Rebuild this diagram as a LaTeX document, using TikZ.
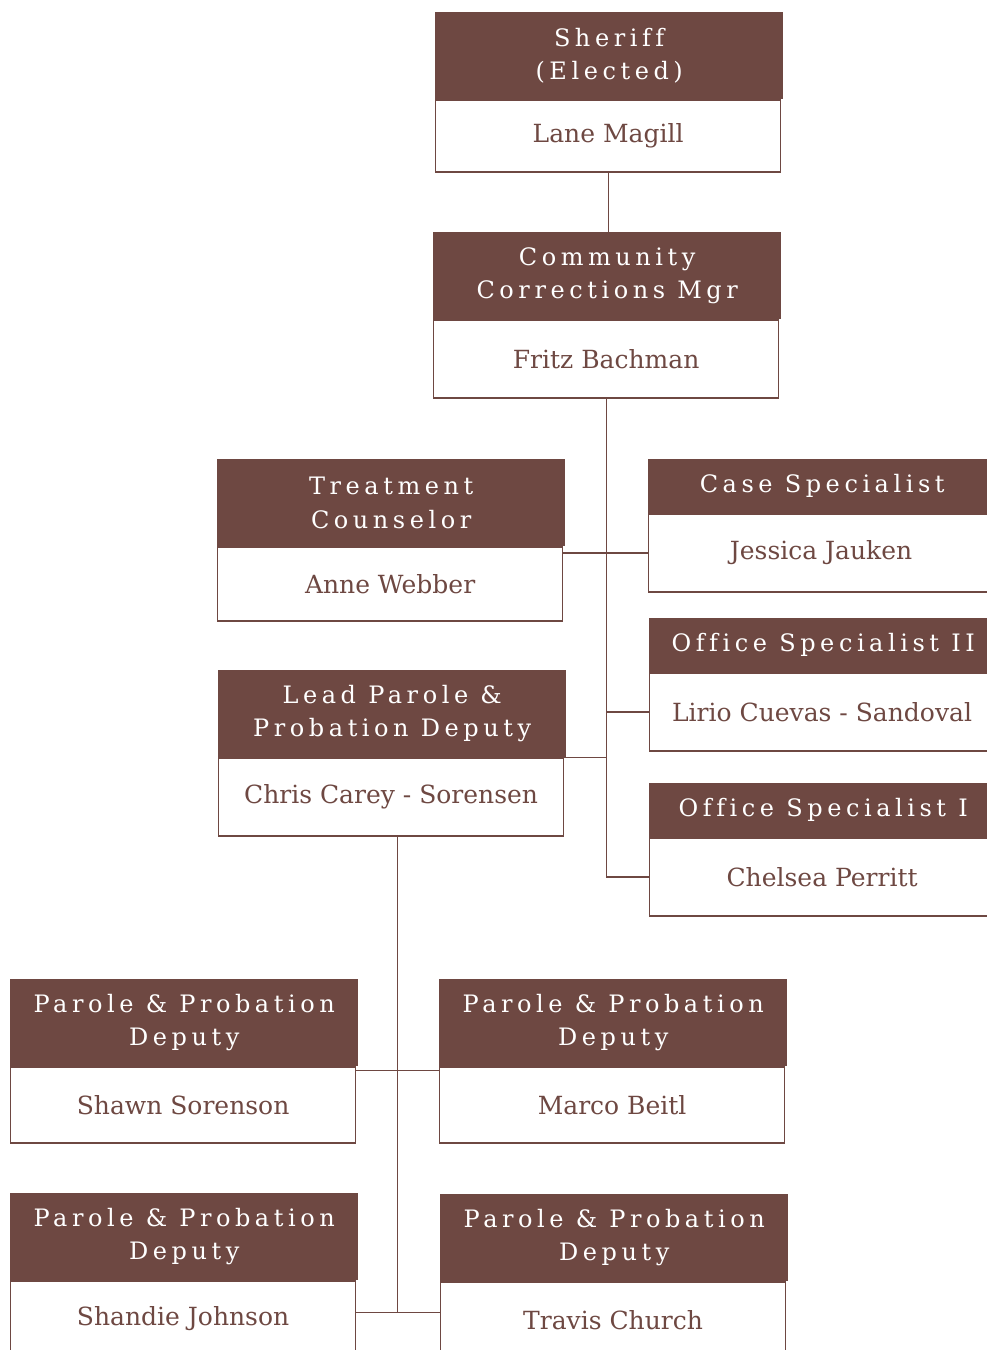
\documentclass[tikz,border=0pt]{standalone}
\usepackage{fontspec}
\setmainfont{DejaVu Serif}
\newfontfamily\hdrfont[LetterSpace=19,Ligatures=NoCommon]{DejaVu Serif}
\usetikzlibrary{positioning,calc}
\definecolor{cocoa}{RGB}{110,72,66}

\tikzset{
	hdr/.style={fill=cocoa, text=white, minimum width=348pt, inner sep=0pt, align=center,
		font=\hdrfont\fontsize{24}{33.5}\selectfont, anchor=north west},
	hdrtwo/.style={hdr, minimum height=87pt},
	hdrone/.style={hdr, minimum height=54pt},
	body/.style={draw=cocoa, line width=1.2pt, fill=white, text=cocoa, minimum width=345pt,
		minimum height=78pt, inner sep=0pt, font=\fontsize{25}{30}\selectfont, anchor=north west},
	link/.style={draw=cocoa, line width=1.2pt},
}

\begin{document}
\begin{tikzpicture}[x=1pt,y=-1pt]
	\useasboundingbox (0,0) rectangle (987,1350);
	% Nodes
	% Sheriff
	\node[hdrtwo] (sheriff) at (435,12) {Sheriff\\(Elected)};
	\node[body, minimum height=72pt] (sheriff-b) at (sheriff.south west) {Lane Magill};
	% Manager
	\node[hdrtwo] (ccm) at (433,232) {Community\\Corrections Mgr};
	\node[body] (ccm-b) at (ccm.south west) {Fritz Bachman};
	% Left column under the manager
	\node[hdrtwo] (treat) at (217,459) {Treatment\\Counselor};
	\node[body, minimum height=74pt] (treat-b) at (treat.south west) {Anne Webber};
	\node[hdrtwo] (lead) at (218,670) {Lead Parole \&\\Probation Deputy};
	\node[body] (lead-b) at (lead.south west) {Chris Carey - Sorensen};
	% Right column under the manager
	\node[hdrone] (case) at (648,459) {Case Specialist};
	\node[body] (case-b) at (case.south west) {Jessica Jauken};
	\node[hdrone] (os-ii) at (649,618) {Office Specialist II};
	\node[body] (os-ii-b) at (os-ii.south west) {Lirio Cuevas - Sandoval};
	\node[hdrone] (os-i) at (649,783) {Office Specialist I};
	\node[body] (os-i-b) at (os-i.south west) {Chelsea Perritt};
	% Deputies under the lead
	\node[hdrtwo] (ppd-a) at (10,979) {Parole \& Probation\\Deputy};
	\node[body, minimum height=76pt] (ppd-a-b) at (ppd-a.south west) {Shawn Sorenson};
	\node[hdrtwo] (ppd-b) at (439,979) {Parole \& Probation\\Deputy};
	\node[body, minimum height=76pt] (ppd-b-b) at (ppd-b.south west) {Marco Beitl};
	\node[hdrtwo] (ppd-c) at (10,1193) {Parole \& Probation\\Deputy};
	\node[body, minimum height=76pt] (ppd-c-b) at (ppd-c.south west) {Shandie Johnson};
	\node[hdrtwo] (ppd-d) at (440,1194) {Parole \& Probation\\Deputy};
	\node[body, minimum height=76pt] (ppd-d-b) at (ppd-d.south west) {Travis Church};

	% Edges
	% Sheriff to manager
	\draw[link] (sheriff-b.south) -- (sheriff-b.south |- ccm.north);
	% Manager trunk and its branches
	\coordinate (trunk) at (ccm-b.south);
	\draw[link] (trunk) -- (trunk |- os-i-b.west);
	\draw[link] (treat-b.east |- case-b.west) -- (case-b.west);
	\draw[link] (trunk |- os-ii-b.west) -- (os-ii-b.west);
	\draw[link] (lead-b.north east) -- (lead-b.north east -| trunk);
	\draw[link] (trunk |- os-i-b.west) -- (os-i-b.west);
	% Lead to deputies
	\coordinate (split) at ($(ppd-a-b.east)!0.5!(ppd-b-b.west)$);
	\coordinate (upbar) at ([yshift=-4pt]ppd-a-b.north east);
	\coordinate (lowbar) at ([yshift=-32pt]ppd-c-b.north east);
	\draw[link] (split |- lead-b.south) -- (split |- lowbar);
	\draw[link] (upbar) -- (upbar -| ppd-b-b.west);
	\draw[link] (lowbar) -- (lowbar -| ppd-d-b.west);
\end{tikzpicture}
\end{document}
